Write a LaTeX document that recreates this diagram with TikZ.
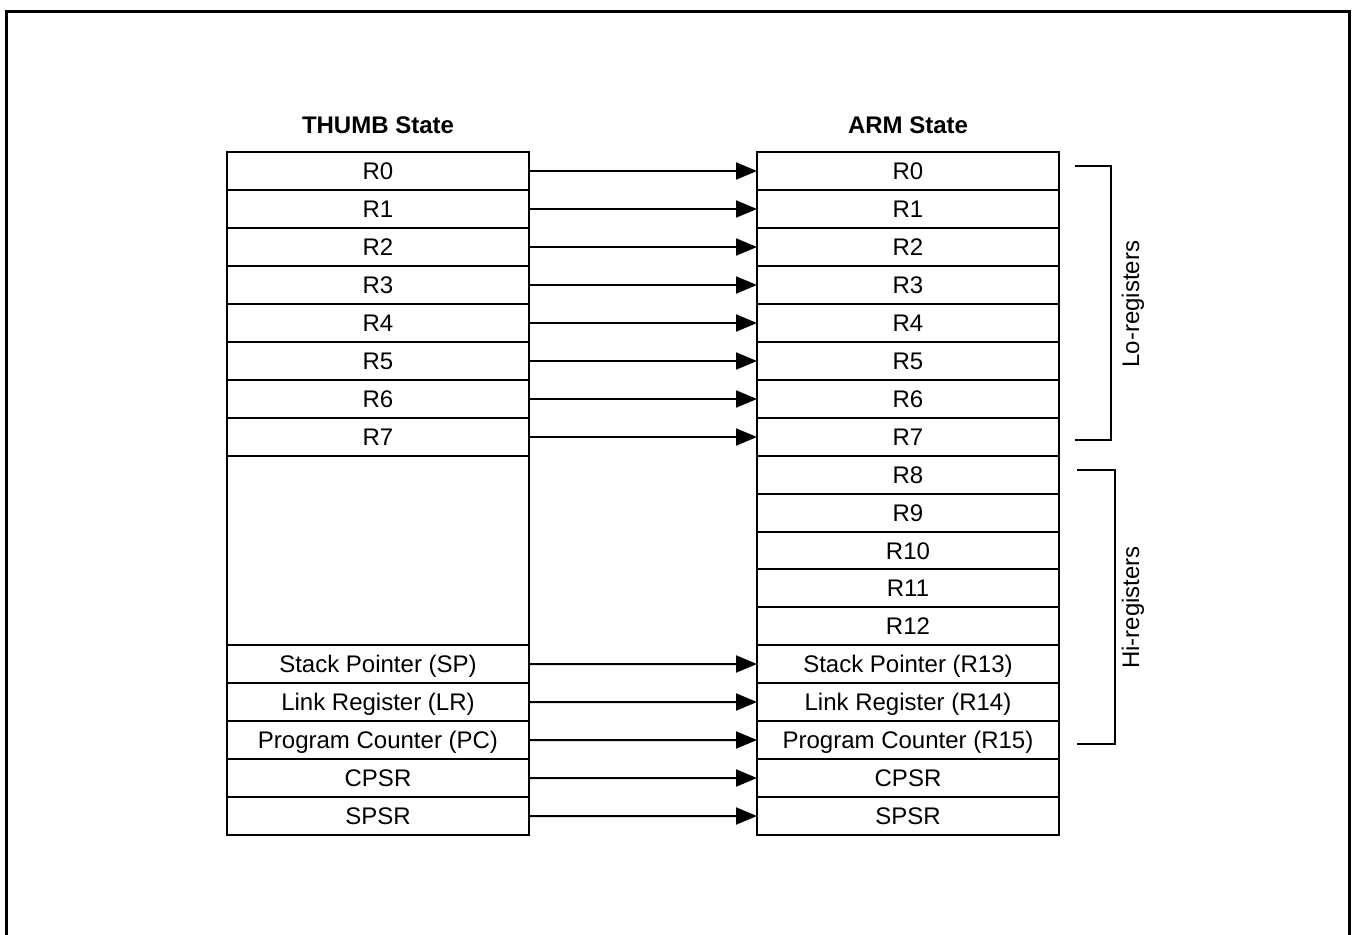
\documentclass[tikz,border=0pt]{standalone}
\usepackage{fontspec}
\setmainfont{Liberation Sans}
\usetikzlibrary{arrows.meta,positioning,calc}
\tikzset{
  reg/.style={draw,line width=1pt,outer sep=0pt,inner sep=0pt,minimum width=151pt,minimum height=19pt,
              text height=8.6pt,text depth=0pt,font=\fontsize{12}{14}\selectfont},
  hreg/.style={reg,minimum height=18.9pt},
  ures/.style={reg,minimum height=94.5pt},
  fej/.style={inner sep=0pt,font=\fontsize{12}{14}\selectfont\bfseries},
  nyil/.style={line width=1pt,-{Triangle[length=10.5pt,width=8.5pt]}},
  zarojel/.style={line width=1pt},
  cimke/.style={rotate=90,inner sep=0pt,font=\fontsize{12}{14}\selectfont},
  keret/.style={line width=1.5pt},
}

\begin{document}
\begin{tikzpicture}[x=0.5pt,y=-0.5pt]
  \useasboundingbox (0,0) rectangle (1355,934);
  \draw[keret] (6,940) -- (6,11) -- (1349,11) -- (1349,940);
  % lo registers, both states
  \node[reg] (t0) at (378,171) {R0};
  \node[reg,right=114pt of t0] (a0) {R0};
  \foreach \i [remember=\i as \j (initially 0)] in {1,...,7} {
    \node[reg,below=0pt of t\j] (t\i) {R\i};
    \node[reg,below=0pt of a\j] (a\i) {R\i};
  }
  \node[fej,above=9pt of t0] (thumb) {THUMB State};
  \node[fej,above=9pt of a0] (arm) {ARM State};
  % hi registers
  \node[ures,below=0pt of t7] (tgap) {};
  \node[hreg,below=0pt of a7] (a8) {R8};
  \node[hreg,below=0pt of a8] (a9) {R9};
  \node[hreg,below=0pt of a9] (a10) {R10};
  \node[hreg,below=0pt of a10] (a11) {R11};
  \node[hreg,below=0pt of a11] (a12) {R12};
  \node[reg,below=0pt of tgap] (tsp) {Stack Pointer (SP)};
  \node[reg,below=0pt of a12] (a13) {Stack Pointer (R13)};
  \node[reg,below=0pt of tsp] (tlr) {Link Register (LR)};
  \node[reg,below=0pt of a13] (a14) {Link Register (R14)};
  \node[reg,below=0pt of tlr] (tpc) {Program Counter (PC)};
  \node[reg,below=0pt of a14] (a15) {Program Counter (R15)};
  \node[reg,below=0pt of tpc] (tcpsr) {CPSR};
  \node[reg,below=0pt of a15] (acpsr) {CPSR};
  \node[reg,below=0pt of tcpsr] (tspsr) {SPSR};
  \node[reg,below=0pt of acpsr] (aspsr) {SPSR};
  % mapping
  \foreach \i in {0,...,7} \draw[nyil] (t\i) -- (a\i);
  \draw[nyil] (tsp) -- (a13); \draw[nyil] (tlr) -- (a14); \draw[nyil] (tpc) -- (a15);
  \draw[nyil] (tcpsr) -- (acpsr); \draw[nyil] (tspsr) -- (aspsr);
  % brackets
  \draw[zarojel] ($(a0.east)+(16,-5)$) -| ($(a7.east)+(52,3)$) -- ($(a7.east)+(16,3)$);
  \node[cimke] (lo) at ($(a0.east)!0.5!(a7.east)+(74,0)$) {Lo-registers};
  \draw[zarojel] ($(a8.east)+(18,-5)$) -| ($(a15.east)+(56,4)$) -- ($(a15.east)+(18,4)$);
  \node[cimke] (hi) at ($(a8.east)!0.5!(a15.east)+(74,0)$) {Hi-registers};
\end{tikzpicture}
\end{document}
